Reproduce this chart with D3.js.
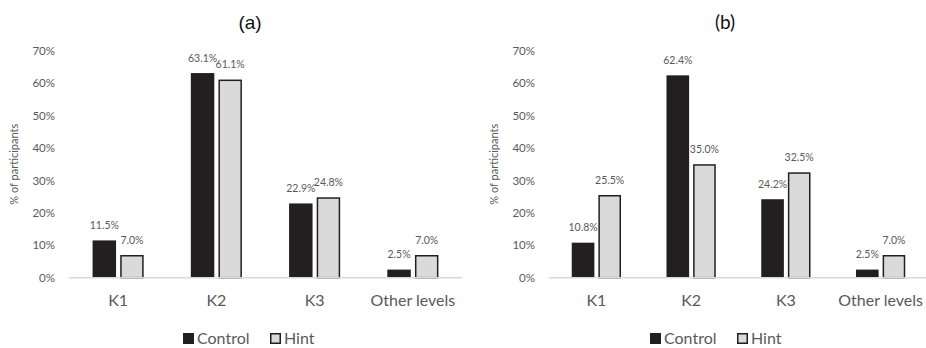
<!DOCTYPE html>
<html>
<head>
<meta charset="utf-8">
<script src="https://cdn.jsdelivr.net/npm/d3@7"></script>
<style>
  html, body { margin: 0; padding: 0; background: #fff; }
  svg { display: block; }
</style>
</head>
<body>
<svg id="chart" width="926" height="348"></svg>
<script>
// Response levels and the two experimental groups
const categories = ["K1", "K2", "K3", "Other levels"];
const seriesNames = ["Control", "Hint"];

// Panel (a): share of participants per level
const controlA = [11.5, 63.1, 22.9, 2.5];
const hintA    = [7.0, 61.1, 24.8, 7.0];

// Panel (b): share of participants per level
const controlB = [10.8, 62.4, 24.2, 2.5];
const hintB    = [25.5, 35.0, 32.5, 7.0];

const yTicks = [0, 10, 20, 30, 40, 50, 60, 70];
const panelTitles = ["(a)", "(b)"];

const FONT = "Lato, 'Open Sans', sans-serif";
const GRAY_TEXT = "#595959";
const fills = { Control: "#231f20", Hint: "#dadadb" };

const svg = d3.select("#chart");

const panels = [
  { title: panelTitles[0], control: controlA, hint: hintA,
    x0: 69, x1: 462, titleX: 250, titleFont: "'Liberation Sans', Arial, sans-serif", legendX: 183 },
  { title: panelTitles[1], control: controlB, hint: hintB,
    x0: 549, x1: 928, titleX: 725, titleFont: FONT, legendX: 650 }
];

const y = d3.scaleLinear().domain([0, 70]).range([277.7, 50.7]);

panels.forEach(p => {
  const g = svg.append("g");

  // panel title
  g.append("text")
    .attr("x", p.titleX).attr("y", 29)
    .attr("text-anchor", "middle")
    .attr("font-family", p.titleFont)
    .attr("font-size", 19)
    .attr("fill", "#111")
    .text(p.title);

  const x = d3.scaleBand().domain(categories).range([p.x0, p.x1])
    .paddingInner(0.48).paddingOuter(0.24);
  const xs = d3.scaleBand().domain(seriesNames).range([0, x.bandwidth()])
    .paddingInner(0.15);

  // y axis: tick labels only
  const yAxis = d3.axisLeft(y).tickValues(yTicks)
    .tickFormat(d => d + "%").tickSize(0).tickPadding(0);
  const ya = g.append("g")
    .attr("transform", `translate(${p.x0 - 14},0)`)
    .call(yAxis);
  ya.select(".domain").remove();
  ya.selectAll("text")
    .attr("font-family", FONT).attr("font-size", 11.5)
    .attr("fill", GRAY_TEXT);

  // y axis title
  g.append("text")
    .attr("transform", `translate(${p.x0 - 51},${(y(0) + y(70)) / 2}) rotate(-90)`)
    .attr("text-anchor", "middle")
    .attr("font-family", FONT).attr("font-size", 11)
    .attr("fill", GRAY_TEXT)
    .text("% of participants");

  const rows = categories.map((c, i) => ({
    cat: c,
    vals: [
      { s: "Control", v: p.control[i] },
      { s: "Hint", v: p.hint[i] }
    ]
  }));

  const groups = g.selectAll(".grp").data(rows).join("g")
    .attr("class", "grp")
    .attr("transform", d => `translate(${x(d.cat)},0)`);

  groups.selectAll("rect").data(d => d.vals).join("rect")
    .attr("x", d => xs(d.s) + (d.s === "Hint" ? 0.75 : 0))
    .attr("y", d => y(d.v) + (d.s === "Hint" ? 0.75 : 0))
    .attr("width", d => xs.bandwidth() - (d.s === "Hint" ? 1.5 : 0))
    .attr("height", d => y(0) - y(d.v) - (d.s === "Hint" ? 0.75 : 0))
    .attr("fill", d => fills[d.s])
    .attr("stroke", d => d.s === "Hint" ? "#231f20" : "none")
    .attr("stroke-width", 1.5);

  // value labels
  groups.selectAll(".lbl").data(d => d.vals).join("text")
    .attr("class", "lbl")
    .attr("x", d => xs(d.s) + xs.bandwidth() / 2)
    .attr("y", d => y(d.v) - 11.5)
    .attr("text-anchor", "middle")
    .attr("font-family", FONT).attr("font-size", 10.5)
    .attr("fill", GRAY_TEXT)
    .text(d => d.v.toFixed(1) + "%");

  // baseline
  g.append("line")
    .attr("x1", p.x0).attr("x2", p.x1)
    .attr("y1", y(0)).attr("y2", y(0))
    .attr("stroke", "#d9d9d9").attr("stroke-width", 1.5);

  // category labels
  const xa = g.append("g")
    .attr("transform", `translate(0,${y(0)})`)
    .call(d3.axisBottom(x).tickSize(0).tickPadding(0));
  xa.select(".domain").remove();
  xa.selectAll("text")
    .attr("dy", null)
    .attr("y", 28.5)
    .attr("font-family", FONT).attr("font-size", 16)
    .attr("fill", GRAY_TEXT);

  // legend
  const lg = g.append("g").attr("transform", `translate(${p.legendX},333)`);
  lg.append("rect").attr("x", 0).attr("y", 0).attr("width", 11).attr("height", 11)
    .attr("fill", fills.Control);
  lg.append("text").attr("x", 14).attr("y", 11)
    .attr("font-family", FONT).attr("font-size", 16).attr("fill", GRAY_TEXT)
    .text(seriesNames[0]);
  lg.append("rect").attr("x", 87.75).attr("y", 0.75).attr("width", 9.5).attr("height", 9.5)
    .attr("fill", fills.Hint).attr("stroke", "#231f20").attr("stroke-width", 1.5);
  lg.append("text").attr("x", 101).attr("y", 11)
    .attr("font-family", FONT).attr("font-size", 16).attr("fill", GRAY_TEXT)
    .text(seriesNames[1]);
});
</script>
</body>
</html>
